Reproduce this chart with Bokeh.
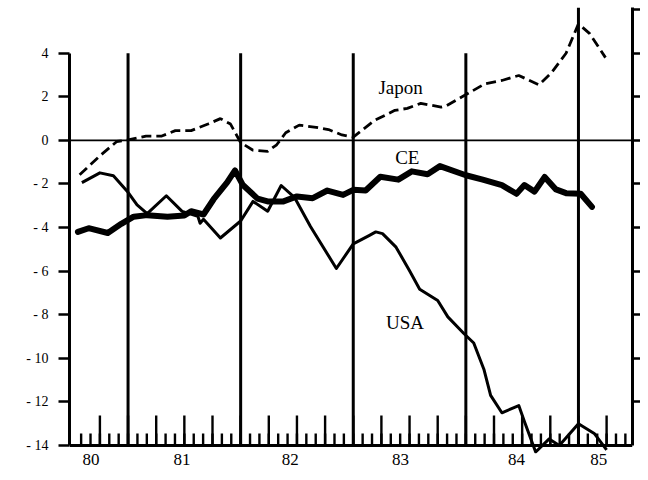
import numpy as np
from bokeh.plotting import figure
from bokeh.models import Range1d, LinearAxis, FixedTicker, Span
from bokeh.core.properties import value
from bokeh.embed import file_html
from bokeh.resources import INLINE

# ---- data ----
japon_x = [1980.57, 1980.75, 1980.90, 1981.00, 1981.16, 1981.30, 1981.42, 1981.56, 1981.71,
           1981.82, 1981.91, 1982.00, 1982.11, 1982.24, 1982.32, 1982.40, 1982.52, 1982.67,
           1982.78, 1982.90, 1983.00, 1983.19, 1983.37, 1983.48, 1983.60, 1983.78, 1983.83,
           1983.99, 1984.17, 1984.32, 1984.47, 1984.65, 1984.76, 1984.89, 1985.00, 1985.10,
           1985.24]
japon_y = [-1.58, -0.71, -0.05, 0.02, 0.20, 0.20, 0.45, 0.45, 0.75,
           1.00, 0.75, -0.10, -0.45, -0.50, -0.20, 0.35, 0.70, 0.60,
           0.50, 0.25, 0.15, 0.92, 1.38, 1.47, 1.70, 1.53, 1.60,
           2.07, 2.60, 2.75, 2.98, 2.55, 3.10, 4.00, 5.35, 4.90,
           3.80]

ce_x = [1980.555, 1980.65, 1980.82, 1980.94, 1981.05, 1981.17, 1981.35, 1981.50, 1981.56,
        1981.67, 1981.76, 1981.88, 1981.95, 1982.02, 1982.15, 1982.24, 1982.38, 1982.50,
        1982.64, 1982.77, 1982.91, 1983.00, 1983.11, 1983.24, 1983.40, 1983.52, 1983.66,
        1983.77, 1984.00, 1984.15, 1984.32, 1984.45, 1984.52, 1984.61, 1984.70, 1984.80,
        1984.89, 1985.02, 1985.12]
ce_y = [-4.20, -4.03, -4.25, -3.83, -3.50, -3.43, -3.50, -3.45, -3.25,
        -3.40, -2.70, -1.93, -1.38, -2.05, -2.67, -2.80, -2.80, -2.57,
        -2.65, -2.30, -2.50, -2.27, -2.30, -1.67, -1.80, -1.42, -1.55,
        -1.18, -1.60, -1.80, -2.05, -2.45, -2.05, -2.35, -1.68, -2.25,
        -2.42, -2.45, -3.05]

usa_x = [1980.59, 1980.75, 1980.87, 1981.00, 1981.08, 1981.17, 1981.34, 1981.48, 1981.62,
         1981.64, 1981.67, 1981.82, 1982.00, 1982.11, 1982.24, 1982.36, 1982.48, 1982.62,
         1982.85, 1983.00, 1983.14, 1983.20, 1983.26, 1983.38, 1983.50, 1983.59, 1983.75,
         1983.84, 1983.98, 1984.07, 1984.16, 1984.22, 1984.32, 1984.47, 1984.52, 1984.62,
         1984.74, 1984.83, 1985.00, 1985.14, 1985.25]
usa_y = [-1.94, -1.49, -1.62, -2.38, -2.96, -3.36, -2.54, -3.26, -3.48,
         -3.80, -3.62, -4.48, -3.70, -2.80, -3.25, -2.07, -2.63, -3.95,
         -5.88, -4.75, -4.37, -4.20, -4.28, -4.90, -5.98, -6.83, -7.35,
         -8.10, -8.85, -9.30, -10.50, -11.70, -12.50, -12.17, -12.90, -14.30,
         -13.70, -14.00, -13.00, -13.45, -14.20]

series_names = ["Japon", "CE", "USA"]
name_x = [1983.42, 1983.48, 1983.46]
name_y = [2.43, -0.78, -8.38]

y_ticks = [4, 2, 0, -2, -4, -6, -8, -10, -12, -14]
y_tick_labels = ["4", "2", "0", "- 2", "- 4", "- 6", "- 8", "- 10", "- 12", "- 14"]
right_ticks = [6, 4, 2, 0, -2, -4, -6, -8, -10, -12]

year_labels = ["80", "81", "82", "83", "84", "85"]
year_label_pos = [1980.67, 1981.48, 1982.44, 1983.42, 1984.45, 1985.18]
year_lines = [1981, 1982, 1983, 1984, 1985]
year_line_tops = [4, 4, 4, 4, 6.1]

X0, X1 = 1980.48, 1985.48
Y0, Y1 = -14.37, 6.1
AXIS_Y = -14
W, H = 640, 472
BL, BR, BT, BB = 69, 8, 7, 19

SERIF = "Liberation Serif"

p = figure(width=W, height=H, x_range=Range1d(X0, X1), y_range=Range1d(Y0, Y1),
           x_axis_type=None, y_axis_type=None, output_backend="svg",
           toolbar_location=None, min_border_left=BL, min_border_right=BR,
           min_border_top=BT, min_border_bottom=BB)
p.outline_line_color = None
p.background_fill_color = "white"
p.border_fill_color = "white"

px_per_unit = (H - BT - BB) / (Y1 - Y0)

# left axis
la = LinearAxis(ticker=FixedTicker(ticks=y_ticks), bounds=(AXIS_Y, 4))
la.major_label_overrides = dict(zip(y_ticks, y_tick_labels))
la.major_tick_out = 11
la.major_tick_in = 0
la.minor_tick_out = 0
la.minor_tick_in = 0
la.axis_line_width = 3
la.major_tick_line_width = 2.5
la.major_label_standoff = 10
la.major_label_text_font = SERIF
la.major_label_text_font_size = "14px"
la.major_label_text_color = "black"
p.add_layout(la, "left")

# right axis (no labels)
ra = LinearAxis(ticker=FixedTicker(ticks=right_ticks), bounds=(AXIS_Y, Y1))
ra.major_label_overrides = {t: "" for t in right_ticks}
ra.major_tick_out = 8
ra.major_tick_in = 0
ra.minor_tick_out = 0
ra.minor_tick_in = 0
ra.axis_line_width = 3
ra.major_tick_line_width = 2.5
ra.major_label_standoff = 0
ra.major_label_text_font_size = "1px"
p.add_layout(ra, "right")

# bottom axis: year labels only (the axis line and ticks are drawn at y = -14)
ba = LinearAxis(ticker=FixedTicker(ticks=year_label_pos, minor_ticks=[]))
ba.major_label_overrides = dict(zip(year_label_pos, year_labels))
ba.axis_line_color = None
ba.major_tick_line_color = None
ba.minor_tick_line_color = None
ba.major_tick_out = 0
ba.major_tick_in = 0
ba.minor_tick_out = 0
ba.minor_tick_in = 0
ba.major_label_standoff = 0
ba.major_label_text_font = SERIF
ba.major_label_text_font_size = "17px"
ba.major_label_text_color = "black"
p.add_layout(ba, "below")

# bottom axis line, monthly and quarterly ticks
p.segment(x0=[X0], y0=[AXIS_Y], x1=[X1], y1=[AXIS_Y], line_color="black", line_width=3)
months = [1980.5 + k / 12 for k in range(1, 60)]
p.segment(x0=months, y0=[AXIS_Y] * len(months), x1=months,
          y1=[AXIS_Y + 12 / px_per_unit] * len(months), line_color="black", line_width=2.4)
quarters = [1980.5 + 0.25 * k for k in range(1, 20)]
p.segment(x0=quarters, y0=[AXIS_Y] * len(quarters), x1=quarters,
          y1=[AXIS_Y + 30 / px_per_unit] * len(quarters), line_color="black", line_width=2.4)

# year boundary lines
p.segment(x0=year_lines, y0=[AXIS_Y] * len(year_lines), x1=year_lines, y1=year_line_tops,
          line_color="black", line_width=3)

# zero line
p.add_layout(Span(location=0, dimension="width", line_color="black", line_width=1.8))

# series
p.line(usa_x, usa_y, line_color="black", line_width=3, line_join="round")
p.line(ce_x, ce_y, line_color="black", line_width=6, line_join="round", line_cap="round")
p.line(japon_x, japon_y, line_color="black", line_width=2.8, line_dash="10 5")

p.text(x=name_x, y=name_y, text=series_names, text_font=value(SERIF),
       text_font_size="19px", text_align="center", text_baseline="middle",
       text_color="black")

open("out.html", "w").write(file_html(p, INLINE))
